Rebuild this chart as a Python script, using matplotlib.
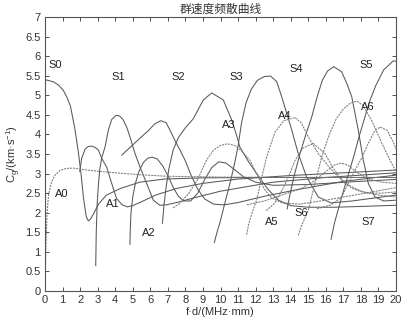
import matplotlib
matplotlib.use("Agg")
import matplotlib.pyplot as plt

# ---- data (f*d in MHz*mm, group velocity in km/s) ----
S0_x = [0, 0.5, 0.8, 1.05, 1.25, 1.45, 1.7, 1.9, 2.05, 2.2, 2.35, 2.47, 2.6, 2.8, 3.05, 3.5, 4.3, 5.4, 6.8, 9, 12, 20]
S0_y = [5.40, 5.34, 5.25, 5.12, 4.95, 4.72, 4.15, 3.55, 3.0, 2.35, 1.9, 1.79, 1.84, 2.0, 2.22, 2.45, 2.62, 2.78, 2.86, 2.89, 2.90, 2.90]

A0_x = [0.02, 0.06, 0.12, 0.2, 0.35, 0.55, 0.85, 1.2, 1.6, 2.2, 3, 4, 5.4, 7, 10, 14, 20]
A0_y = [0.5, 1.3, 2.0, 2.45, 2.75, 2.95, 3.08, 3.13, 3.14, 3.1, 3.06, 3.02, 2.97, 2.93, 2.91, 2.90, 2.90]

A1_x = [1.98, 2.09, 2.28, 2.45, 2.66, 2.85, 3.04, 3.23, 3.51, 3.8, 4.08, 4.4, 4.69, 5.0, 5.5, 6.3, 7.5, 9, 11, 14, 17, 20]
A1_y = [3.05, 3.39, 3.62, 3.69, 3.70, 3.67, 3.60, 3.39, 3.17, 2.75, 2.36, 2.2, 2.15, 2.18, 2.28, 2.45, 2.62, 2.75, 2.86, 2.95, 3.02, 3.09]

S1_x = [2.89, 2.92, 2.97, 3.04, 3.12, 3.23, 3.42, 3.61, 3.8, 4.05, 4.25, 4.46, 4.66, 4.84, 5.13, 5.41, 5.79, 6.17, 6.55, 6.9, 7.5, 8.5, 10, 13, 16, 20]
S1_y = [0.65, 1.5, 2.2, 2.7, 3.1, 3.40, 3.68, 4.11, 4.38, 4.49, 4.47, 4.37, 4.18, 3.94, 3.51, 3.17, 2.75, 2.32, 2.19, 2.2, 2.26, 2.38, 2.55, 2.78, 2.9, 3.02]

S2_x = [4.37, 4.9, 5.4, 5.9, 6.25, 6.6, 6.9, 7.12, 7.4, 7.69, 7.98, 8.3, 8.7, 9.1, 9.6, 10.2, 11, 12.5, 14.5, 17, 20]
S2_y = [3.47, 3.69, 3.9, 4.1, 4.27, 4.35, 4.3, 4.11, 3.85, 3.6, 3.34, 2.98, 2.6, 2.35, 2.22, 2.2, 2.26, 2.42, 2.6, 2.8, 2.96]

A2_x = [4.84, 4.86, 4.9, 5.0, 5.15, 5.35, 5.6, 5.85, 6.1, 6.4, 6.7, 7.0, 7.3, 7.6, 7.9, 8.3, 8.7, 9.1, 9.5, 9.9, 10.3, 10.8, 11.3, 12, 13, 15, 17.5, 20]
A2_y = [1.19, 1.6, 2.0, 2.4, 2.75, 3.05, 3.28, 3.39, 3.42, 3.37, 3.2, 2.95, 2.65, 2.42, 2.3, 2.3, 2.5, 2.85, 3.15, 3.3, 3.27, 3.1, 2.92, 2.78, 2.7, 2.72, 2.79, 2.85]

S3_x = [6.69, 6.78, 6.9, 7.05, 7.3, 7.6, 8.0, 8.45, 9.02, 9.5, 10.16, 10.64, 10.9, 11.1, 11.6, 12.06, 12.7, 13.3, 14, 15, 16.5, 18, 20]
S3_y = [1.73, 2.2, 2.65, 3.1, 3.6, 3.92, 4.17, 4.4, 4.88, 5.06, 4.88, 4.37, 4.0, 3.68, 3.3, 3.0, 2.6, 2.32, 2.18, 2.14, 2.14, 2.16, 2.19]

A3_x = [7.3, 7.7, 8.2, 8.7, 9.2, 9.6, 10.0, 10.4, 10.8, 11.2, 11.68, 12.1, 12.5, 12.9, 13.5, 14.5, 16, 18, 20]
A3_y = [2.12, 2.25, 2.5, 2.85, 3.34, 3.6, 3.72, 3.76, 3.72, 3.58, 3.34, 2.95, 2.6, 2.38, 2.25, 2.22, 2.32, 2.48, 2.64]

S4_x = [9.65, 9.8, 9.97, 10.25, 10.54, 10.8, 11.0, 11.2, 11.45, 11.75, 12.1, 12.5, 12.85, 13.2, 13.49, 13.8, 14.06, 14.43, 14.9, 15.57, 16.3, 17.5, 20]
S4_y = [1.24, 1.5, 1.75, 2.25, 2.75, 3.25, 3.7, 4.3, 4.8, 5.15, 5.38, 5.48, 5.49, 5.35, 4.96, 4.5, 4.11, 3.51, 2.92, 2.4, 2.25, 2.3, 2.45]

A4_x = [11.49, 11.6, 11.8, 12.06, 12.35, 12.63, 13.1, 13.6, 14.25, 14.6, 15.0, 15.57, 16.33, 17.1, 18, 19, 20]
A4_y = [1.44, 1.7, 2.0, 2.32, 2.9, 3.43, 4.05, 4.35, 4.43, 4.3, 3.94, 3.51, 3.09, 2.75, 2.55, 2.45, 2.40]

S5_x = [13.8, 13.95, 14.2, 14.53, 14.85, 15.2, 15.5, 15.8, 16.1, 16.45, 16.9, 17.2, 17.48, 17.85, 18.14, 18.42, 18.8, 19.3, 20]
S5_y = [2.1, 2.45, 2.95, 3.51, 3.98, 4.45, 4.95, 5.38, 5.62, 5.73, 5.6, 5.3, 4.96, 4.11, 3.34, 2.75, 2.4, 2.3, 2.32]

A5_x = [12.6, 13.1, 13.6, 13.95, 14.25, 14.7, 15.29, 15.95, 16.4, 16.9, 17.5, 18.3, 19.2, 20]
A5_y = [2.05, 2.25, 2.65, 3.0, 3.34, 3.65, 3.77, 3.51, 3.15, 2.85, 2.62, 2.5, 2.5, 2.53]

A7_x = [11.5, 12.5, 13.5, 14.6, 15.3, 16.0, 16.5, 16.9, 17.3, 17.8, 18.5, 19.2, 20]
A7_y = [2.2, 2.3, 2.45, 2.62, 2.8, 3.05, 3.22, 3.27, 3.2, 3.02, 2.85, 2.78, 2.75]

S6_x = [14.43, 14.6, 15.0, 15.38, 15.77, 16.2, 16.6, 17.0, 17.4, 17.76, 18.1, 18.6, 19.2, 19.66, 20]
S6_y = [1.42, 1.65, 2.06, 2.75, 3.43, 4.0, 4.4, 4.65, 4.8, 4.85, 4.75, 4.37, 3.77, 3.34, 3.05]

S7_x = [16.3, 16.5, 16.75, 17.0, 17.3, 17.6, 17.9, 18.2, 18.5, 18.85, 19.3, 19.85, 20]
S7_y = [1.32, 1.75, 2.15, 2.55, 3.0, 3.45, 3.95, 4.4, 4.85, 5.25, 5.65, 5.88, 5.87]

A8_x = [15.5, 16.3, 16.9, 17.5, 18.05, 18.42, 18.8, 19.1, 19.5, 19.85, 20]
A8_y = [2.1, 2.2, 2.4, 2.95, 3.4, 3.77, 4.1, 4.19, 4.1, 3.8, 3.62]

solid_modes = [(S0_x, S0_y), (A1_x, A1_y), (S1_x, S1_y), (S2_x, S2_y), (A2_x, A2_y),
               (S3_x, S3_y), (S4_x, S4_y), (S5_x, S5_y), (S7_x, S7_y)]
dashed_modes = [(A0_x, A0_y), (A3_x, A3_y), (A4_x, A4_y), (A5_x, A5_y), (A7_x, A7_y),
                (S6_x, S6_y), (A8_x, A8_y)]

label_texts = ["S0", "S1", "S2", "S3", "S4", "S5", "A6", "A4", "A3", "A0", "A1", "A2", "A5", "S6", "S7"]
label_x = [0.57, 4.18, 7.6, 10.88, 14.34, 18.33, 18.37, 13.68, 10.45, 0.95, 3.89, 5.89, 12.92, 14.63, 18.42]
label_y = [5.77, 5.47, 5.47, 5.47, 5.67, 5.77, 4.71, 4.48, 4.24, 2.47, 2.23, 1.47, 1.77, 1.98, 1.77]

x_ticks = list(range(0, 21))
y_ticks = [0, 0.5, 1, 1.5, 2, 2.5, 3, 3.5, 4, 4.5, 5, 5.5, 6, 6.5, 7]
y_ticklabels = ["0", "0.5", "1", "1.5", "2", "2.5", "3", "3.5", "4", "4.5", "5", "5.5", "6", "6.5", "7"]

plt.rcParams['font.family'] = ['Liberation Sans', 'Noto Sans CJK SC', 'DejaVu Sans']
plt.rcParams['mathtext.fontset'] = 'custom'
plt.rcParams['mathtext.rm'] = 'Liberation Sans'
plt.rcParams['mathtext.it'] = 'Liberation Sans'

fig = plt.figure(figsize=(4.04, 3.26), dpi=100)
ax = fig.add_axes([0.1114, 0.1074, 0.8688, 0.8405])

for xs, ys in solid_modes:
    ax.plot(xs, ys, color='#585858', lw=0.75, solid_joinstyle='round')
for xs, ys in dashed_modes:
    ax.plot(xs, ys, color='#7a7a7a', lw=0.75, ls=(0, (2.0, 0.9)))

for t, lx, ly in zip(label_texts, label_x, label_y):
    ax.text(lx, ly, t, fontsize=8, ha='center', va='center', color='#222222')

ax.set_xlim(0, 20)
ax.set_ylim(0, 7)
ax.set_xticks(x_ticks)
ax.set_xticklabels([str(v) for v in x_ticks])
ax.set_yticks(y_ticks)
ax.set_yticklabels(y_ticklabels)
ax.tick_params(direction='in', top=True, right=True, length=3, width=0.6,
               labelsize=8, colors='#333333', pad=3)
for sp in ax.spines.values():
    sp.set_color('#555555')
    sp.set_linewidth(0.8)

ax.set_title('群速度频散曲线', fontsize=8.5, color='#333333', pad=3,
             family=['Noto Sans CJK SC', 'DejaVu Sans'])
ax.set_xlabel('f·d/(MHz·mm)', fontsize=8, color='#333333', labelpad=1)
ax.set_ylabel(r'C$_\mathregular{g}$/(km·s$^\mathregular{-1}$)', fontsize=8, color='#333333', labelpad=2)

fig.savefig('out.png', dpi=100, facecolor='white')
